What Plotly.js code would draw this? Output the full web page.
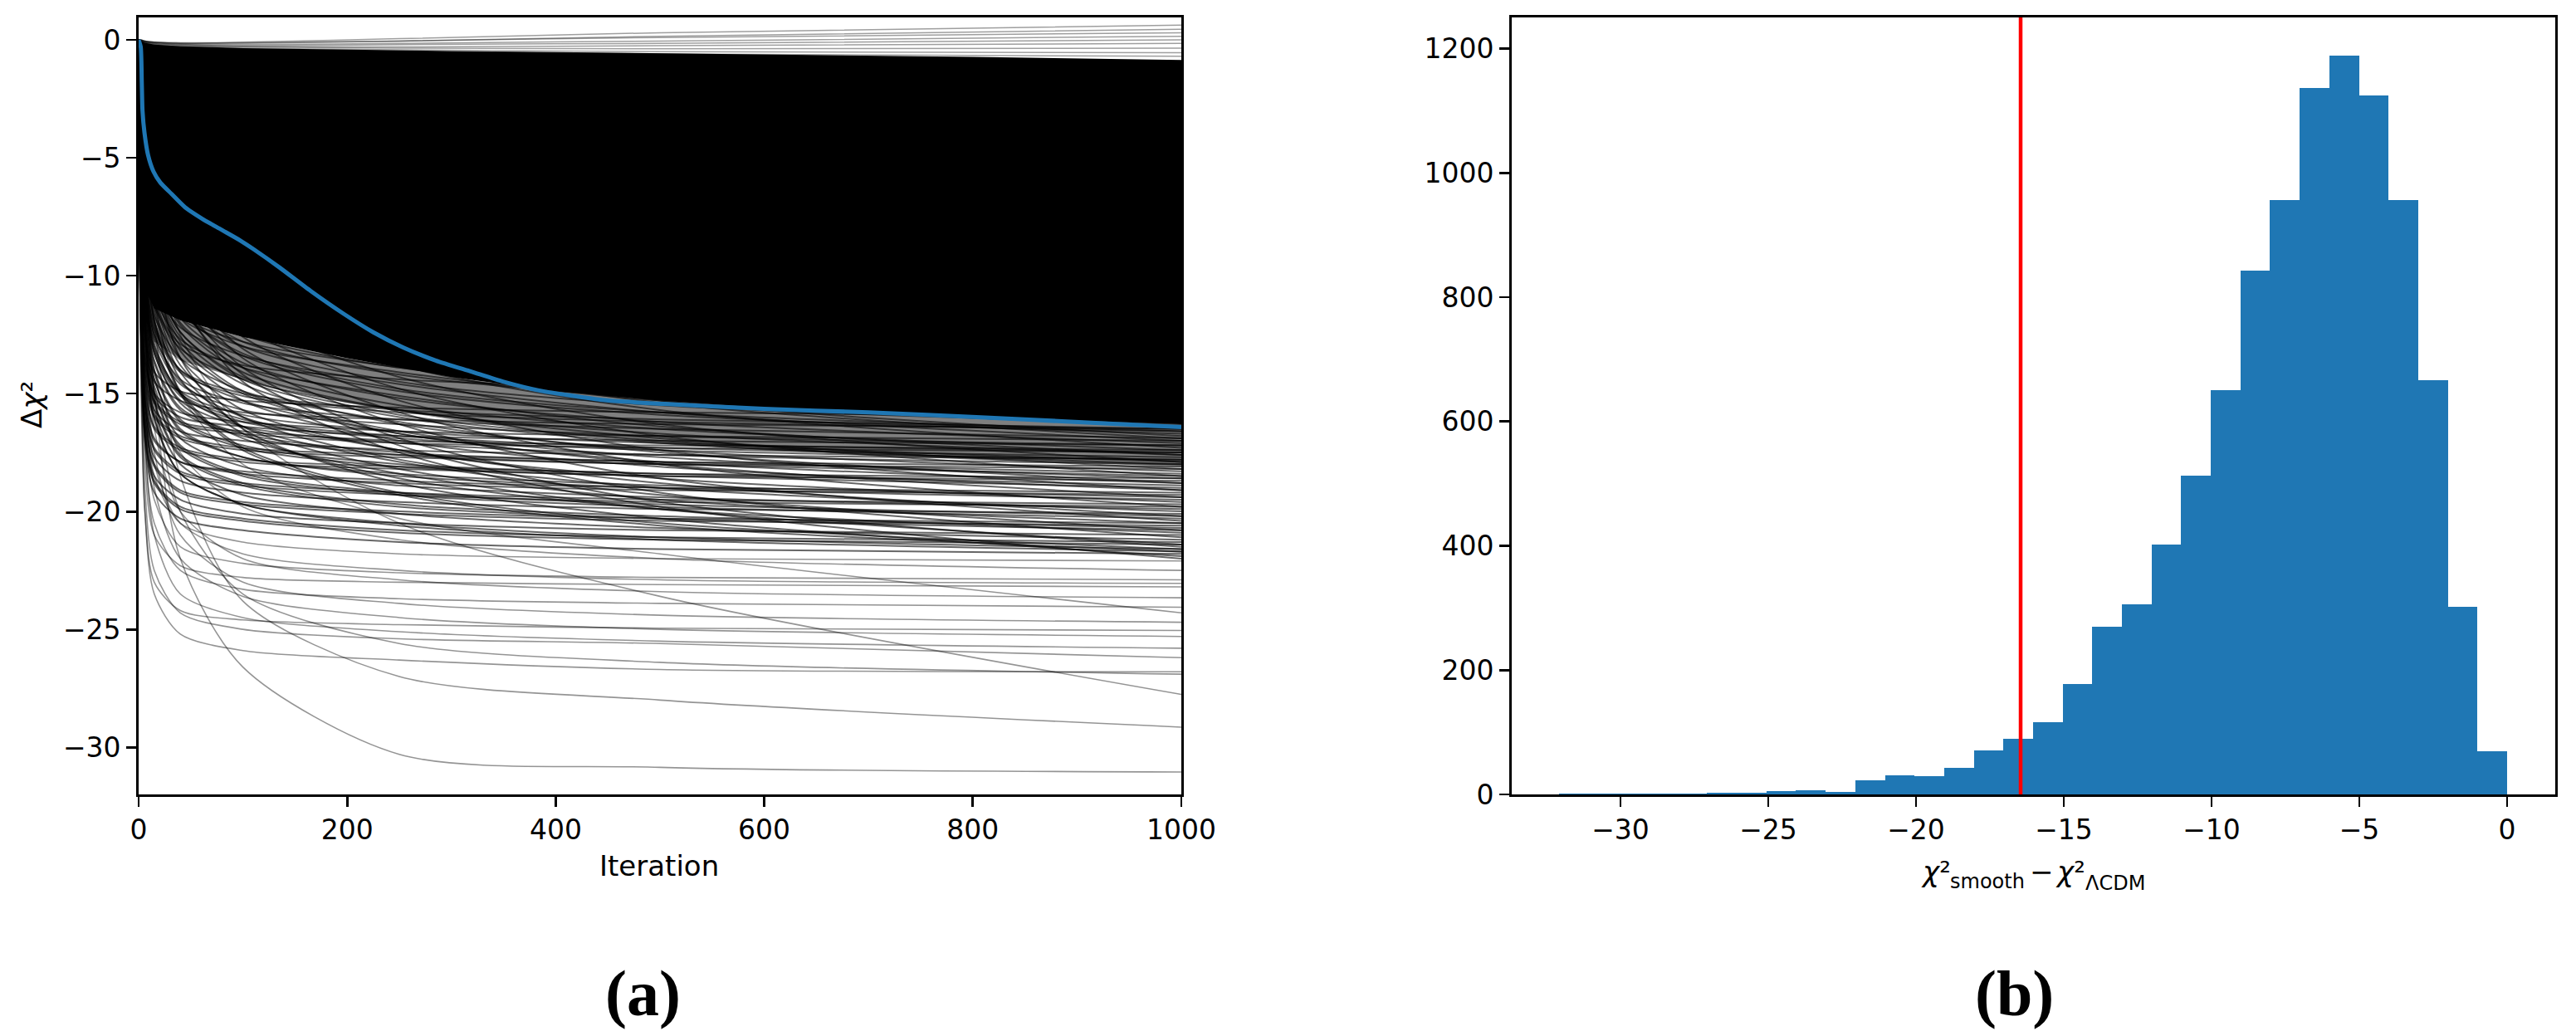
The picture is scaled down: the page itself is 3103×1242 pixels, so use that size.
<!DOCTYPE html>
<html>
<head>
<meta charset="utf-8">
<script src="https://cdn.plot.ly/plotly-3.0.1.min.js"></script>
<style>html,body{margin:0;padding:0;background:#fff;}#chart{width:3103px;height:1242px;}</style>
</head>
<body>
<div id="chart"></div>
<script>
// ---------------- Panel (a): trajectories ----------------
const ITER = [0, 2, 6, 15, 40, 100, 250, 500, 1000];

// envelope of the saturated (solid black) region
const FILL_ITER = [0, 2, 6, 15, 40, 100, 200, 300, 400, 500, 600, 800, 1000];
const FILL_TOP  = [0, -0.05, -0.12, -0.2, -0.27, -0.35, -0.42, -0.48, -0.52, -0.57, -0.62, -0.72, -0.85];
const FILL_BOT  = [0, -8, -10.6, -11.4, -11.9, -12.6, -13.5, -14.3, -14.9, -15.3, -15.6, -16.0, -16.3];
// lower edge of the very crowded zone just under it
const CROWD_BOT = [0, -9, -11.8, -12.8, -13.6, -14.4, -15.4, -16.1, -16.7, -17.1, -17.4, -17.8, -18.1];

// dense band of trajectories (values at ITER)
const DENSE_LINES = [
  [0,-12.0,-17.0,-19.2,-20.3,-20.8,-21.3,-21.6,-21.8],
  [0,-7.6,-12.6,-16.1,-18.4,-19.7,-20.6,-21.2,-21.7],
  [0,-4.8,-8.6,-11.9,-14.9,-17.3,-19.2,-20.5,-21.6],
  [0,-2.6,-5.4,-8.2,-11.2,-14.2,-17.2,-19.6,-21.5],
  [0,-11.8,-16.7,-18.8,-19.9,-20.4,-20.9,-21.2,-21.4],
  [0,-7.4,-12.3,-15.7,-18.0,-19.3,-20.1,-20.7,-21.2],
  [0,-11.6,-16.4,-18.5,-19.5,-20.1,-20.5,-20.8,-21.0],
  [0,-4.6,-8.4,-11.5,-14.4,-16.7,-18.6,-19.9,-20.9],
  [0,-7.2,-12.0,-15.3,-17.6,-18.8,-19.7,-20.2,-20.7],
  [0,-11.3,-16.1,-18.1,-19.2,-19.7,-20.1,-20.4,-20.6],
  [0,-2.4,-5.1,-7.8,-10.6,-13.5,-16.3,-18.6,-20.4],
  [0,-7.1,-11.8,-15.0,-17.3,-18.5,-19.3,-19.8,-20.3],
  [0,-11.1,-15.7,-17.7,-18.7,-19.2,-19.6,-19.9,-20.1],
  [0,-4.4,-8.0,-11.0,-13.8,-16.0,-17.8,-19.0,-20.0],
  [0,-7.0,-11.5,-14.7,-16.9,-18.1,-18.9,-19.4,-19.9],
  [0,-10.8,-15.4,-17.3,-18.3,-18.8,-19.2,-19.5,-19.7],
  [0,-4.3,-7.8,-10.8,-13.5,-15.7,-17.4,-18.6,-19.6],
  [0,-6.8,-11.3,-14.4,-16.5,-17.7,-18.4,-18.9,-19.4],
  [0,-10.6,-15.0,-16.9,-17.9,-18.3,-18.7,-19.0,-19.2],
  [0,-2.3,-4.8,-7.3,-9.9,-12.6,-15.3,-17.4,-19.1],
  [0,-6.6,-11.0,-14.0,-16.1,-17.2,-18.0,-18.4,-18.9],
  [0,-4.1,-7.5,-10.3,-13.0,-15.0,-16.7,-17.9,-18.8],
  [0,-10.2,-14.5,-16.4,-17.3,-17.8,-18.1,-18.4,-18.6],
  [0,-6.5,-10.7,-13.7,-15.7,-16.8,-17.6,-18.0,-18.5],
  [0,-4.0,-7.3,-10.1,-12.6,-14.6,-16.3,-17.4,-18.3],
  [0,-10.0,-14.2,-16.0,-16.9,-17.4,-17.7,-18.0,-18.2],
  [0,-6.3,-10.4,-13.3,-15.3,-16.4,-17.1,-17.6,-18.0],
  [0,-2.1,-4.5,-6.8,-9.3,-11.8,-14.3,-16.3,-17.9],
  [0,-9.8,-13.9,-15.7,-16.6,-17.0,-17.4,-17.6,-17.8],
  [0,-3.9,-7.0,-9.7,-12.1,-14.1,-15.7,-16.7,-17.6],
  [0,-6.1,-10.2,-13.0,-14.9,-15.9,-16.6,-17.1,-17.5],
  [0,-9.6,-13.6,-15.3,-16.2,-16.6,-17.0,-17.2,-17.4],
  [0,-6.0,-10.0,-12.7,-14.6,-15.7,-16.3,-16.8,-17.2],
  [0,-3.8,-6.8,-9.4,-11.8,-13.7,-15.2,-16.2,-17.1],
  [0,-9.4,-13.3,-15.0,-15.8,-16.2,-16.6,-16.8,-17.0],
  [0,-5.9,-9.8,-12.5,-14.4,-15.4,-16.1,-16.5,-16.9],
  [0,-2.0,-4.2,-6.4,-8.7,-11.1,-13.4,-15.3,-16.8],
  [0,-3.7,-6.6,-9.1,-11.5,-13.3,-14.8,-15.8,-16.6],
  [0,-5.8,-9.6,-12.2,-14.0,-15.0,-15.7,-16.1,-16.5],
  [0,-3.6,-6.5,-9.0,-11.2,-13.0,-14.5,-15.5,-16.3],
  [0,-1.9,-4.1,-6.2,-8.4,-10.7,-13.0,-14.7,-16.2],
  [0,-3.5,-6.4,-8.8,-11.0,-12.8,-14.2,-15.2,-16.0],
  [0,-2.0,-4.5,-7.5,-11.0,-14.5,-17.5,-19.8,-22.0],
  [0,-3.0,-6.0,-9.5,-13.5,-16.5,-18.8,-20.3,-21.9],
  [0,-3.3,-6.0,-8.3,-10.4,-12.0,-13.4,-14.3,-15.0],
  [0,-1.8,-3.8,-5.8,-8.0,-10.1,-12.2,-13.9,-15.3],
  [0,-3.4,-6.2,-8.6,-10.8,-12.5,-13.9,-14.8,-15.6],
  [0,-4.7,-7.9,-9.8,-11.4,-12.5,-13.6,-14.7,-15.8],
  [0,-1.9,-4.0,-6.1,-8.4,-10.6,-12.9,-14.7,-16.1],
  [0,-4.9,-8.2,-10.2,-11.8,-13.0,-14.1,-15.3,-16.4],
  [0,-3.7,-6.7,-9.2,-11.5,-13.4,-14.9,-15.9,-16.7],
  [0,-5.1,-8.5,-10.5,-12.2,-13.4,-14.6,-15.8,-17.0],
  [0,-2.1,-4.3,-6.6,-9.0,-11.4,-13.8,-15.7,-17.3],
  [0,-5.3,-8.8,-10.9,-12.7,-13.9,-15.1,-16.4,-17.6],
  [0,-3.9,-7.2,-9.8,-12.4,-14.3,-15.9,-17.0,-17.9],
  [0,-5.5,-9.1,-11.3,-13.1,-14.4,-15.7,-16.9,-18.2],
  [0,-2.2,-4.6,-7.0,-9.6,-12.2,-14.8,-16.8,-18.5],
  [0,-5.6,-9.4,-11.7,-13.5,-14.9,-16.2,-17.5,-18.8],
  [0,-4.2,-7.6,-10.5,-13.2,-15.3,-17.0,-18.1,-19.1],
  [0,-5.8,-9.7,-12.0,-14.0,-15.3,-16.7,-18.0,-19.4],
  [0,-2.4,-5.0,-7.5,-10.3,-13.1,-15.8,-18.0,-19.8],
  [0,-6.1,-10.1,-12.5,-14.5,-16.0,-17.4,-18.8,-20.2],
  [0,-4.5,-8.2,-11.3,-14.1,-16.4,-18.2,-19.5,-20.5],
  [0,-6.2,-10.4,-12.9,-15.0,-16.4,-17.9,-19.3,-20.8],
  [0,-2.5,-5.3,-8.0,-11.0,-13.9,-16.9,-19.2,-21.1],
  [0,-6.4,-10.7,-13.3,-15.4,-16.9,-18.4,-19.9,-21.4],
  [0,-4.8,-8.7,-11.9,-15.0,-17.4,-19.3,-20.6,-21.7],
  [0,-5.3,-8.8,-11.2,-12.9,-13.8,-14.4,-14.8,-15.2],
  [0,-8.8,-12.5,-14.1,-14.9,-15.3,-15.6,-15.8,-16.0],
  [0,-5.8,-9.6,-12.3,-14.1,-15.1,-15.8,-16.2,-16.6],
  [0,-9.5,-13.4,-15.1,-16.0,-16.4,-16.8,-17.0,-17.2],
  [0,-6.2,-10.3,-13.1,-15.0,-16.1,-16.8,-17.3,-17.7],
  [0,-10.0,-14.1,-15.9,-16.8,-17.3,-17.6,-17.9,-18.1],
  [0,-6.4,-10.7,-13.6,-15.6,-16.7,-17.5,-17.9,-18.4],
  [0,-10.3,-14.6,-16.5,-17.4,-17.9,-18.2,-18.5,-18.7],
  [0,-6.7,-11.0,-14.1,-16.2,-17.3,-18.1,-18.5,-19.0],
  [0,-10.6,-15.1,-17.0,-17.9,-18.4,-18.8,-19.1,-19.3],
  [0,-6.8,-11.3,-14.4,-16.6,-17.7,-18.5,-19.0,-19.5],
  [0,-10.9,-15.4,-17.4,-18.4,-18.9,-19.3,-19.6,-19.8],
  [0,-7.1,-11.7,-14.9,-17.2,-18.4,-19.2,-19.7,-20.2],
  [0,-11.3,-16.0,-18.0,-19.1,-19.6,-20.0,-20.3,-20.5],
  [0,-7.3,-12.1,-15.4,-17.7,-18.9,-19.8,-20.3,-20.8],
  [0,-11.7,-16.6,-18.7,-19.8,-20.3,-20.8,-21.1,-21.3],
  [0,-7.6,-12.5,-16.0,-18.4,-19.7,-20.5,-21.1,-21.6],
  [0,-4.9,-8.1,-10.0,-11.7,-12.8,-13.9,-15.1,-16.2],
  [0,-2.0,-4.2,-6.4,-8.8,-11.2,-13.5,-15.4,-16.9],
  [0,-3.8,-7.0,-9.6,-12.0,-13.9,-15.5,-16.5,-17.4],
  [0,-6.2,-10.3,-13.2,-15.1,-16.2,-16.9,-17.4,-17.8],
  [0,-4.0,-7.2,-9.9,-12.4,-14.4,-16.0,-17.1,-18.0],
  [0,-9.1,-12.9,-14.5,-15.3,-15.8,-16.1,-16.3,-16.5],
  [0,-9.6,-13.7,-15.4,-16.3,-16.7,-17.1,-17.3,-17.5],
  [0,-4.1,-7.4,-10.2,-12.8,-14.9,-16.6,-17.7,-18.6]
];

// isolated trajectories in the lower tail (values at ITER)
const SPARSE_LINES = [
  [0,-4,-9,-15,-22,-26.6,-30.3,-30.85,-31.05],
  [0,-12,-20,-23.5,-25.2,-25.9,-26.3,-26.7,-26.8],
  [0,-3,-7,-12,-18.5,-23.8,-27.0,-28.0,-29.15],
  [0,-2,-5,-8,-12.5,-16.5,-20.5,-23.6,-27.76],
  [0,-13,-19,-22.5,-24.3,-25.0,-25.4,-25.6,-26.2],
  [0,-10,-17,-21,-23.5,-24.5,-25.1,-25.5,-25.8],
  [0,-14,-20,-23,-24.2,-24.6,-24.8,-24.95,-25.05],
  [0,-3,-7,-11,-15,-18,-20.3,-21.8,-24.3],
  [0,-11,-17,-20.5,-22.5,-23.3,-23.7,-23.9,-24.06],
  [0,-6,-12,-16.5,-20,-22,-22.9,-23.4,-23.66],
  [0,-12,-18,-21,-22.3,-22.8,-23.0,-23.1,-23.2],
  [0,-8,-14,-18,-20.5,-21.8,-22.5,-22.9,-23.05],
  [0,-10,-16,-19.5,-21.5,-22.2,-22.6,-22.8,-22.9],
  [0,-5,-10,-14,-17.5,-19.8,-21.2,-22.0,-22.5],
  [0,-9,-15,-18.5,-20.5,-21.3,-21.8,-22.0,-22.1],
  [0,-7,-13,-17.5,-21,-23,-23.9,-24.4,-24.7],
  [0,-9,-15,-19,-22,-23.6,-24.5,-25.0,-25.3],
  [0,-5,-10,-15,-20,-23.5,-25.6,-26.4,-26.9]
];

// faint trajectories just above the saturated region (values at ITER)
const TOP_LINES = [
  [0,0,-0.05,-0.1,-0.15,-0.1,0.05,0.3,0.62],
  [0,0,-0.05,-0.1,-0.15,-0.15,-0.05,0.15,0.45],
  [0,0,-0.05,-0.1,-0.12,-0.12,-0.05,0.1,0.3],
  [0,-0.02,-0.08,-0.12,-0.18,-0.2,-0.15,-0.05,0.15],
  [0,-0.02,-0.08,-0.14,-0.2,-0.25,-0.2,-0.15,0.0],
  [0,-0.03,-0.1,-0.16,-0.22,-0.28,-0.3,-0.25,-0.15],
  [0,-0.03,-0.1,-0.18,-0.25,-0.3,-0.35,-0.38,-0.35],
  [0,-0.04,-0.12,-0.2,-0.28,-0.35,-0.42,-0.5,-0.55],
  [0,-0.05,-0.14,-0.22,-0.3,-0.4,-0.5,-0.6,-0.7]
];

// highlighted (blue) trajectory
const BLUE_ITER = [0, 2, 3, 3.7, 5.6, 9, 14.3, 20.9, 31.5, 44.8, 60.7, 79.3, 97.9, 110, 135, 165, 196, 225, 254, 285, 319, 350, 384, 420, 449, 504, 600, 700, 756, 850, 930, 1000];
const BLUE_VAL  = [0, -0.3, -1.8, -3.0, -3.94, -4.88, -5.59, -6.06, -6.53, -7.11, -7.58, -8.05, -8.52, -8.87, -9.65, -10.65, -11.6, -12.4, -13.05, -13.6, -14.07, -14.5, -14.87, -15.12, -15.29, -15.44, -15.65, -15.8, -15.9, -16.1, -16.27, -16.42];

const A_XTICKS = [0, 200, 400, 600, 800, 1000];
const A_XLABELS = ['0', '200', '400', '600', '800', '1000'];
const A_YTICKS = [0, -5, -10, -15, -20, -25, -30];
const A_YLABELS = ['0', '\u22125', '\u221210', '\u221215', '\u221220', '\u221225', '\u221230'];

// ---------------- Panel (b): histogram ----------------
const BIN_START = -32.08;
const BIN_WIDTH = 1.0025;
const COUNTS = [1, 1, 1, 1, 1, 3, 3, 5, 7, 4, 23, 31, 29, 43, 71, 89, 116, 177, 270, 306,
                402, 513, 651, 843, 956, 1136, 1189, 1125, 956, 667, 302, 69];
const OBSERVED = -16.46;

const B_XTICKS = [-30, -25, -20, -15, -10, -5, 0];
const B_XLABELS = ['\u221230', '\u221225', '\u221220', '\u221215', '\u221210', '\u22125', '0'];
const B_YTICKS = [0, 200, 400, 600, 800, 1000, 1200];
const B_YLABELS = ['0', '200', '400', '600', '800', '1000', '1200'];

// ---------------- build ----------------
const W = 3103, H = 1242;
const px = v => v / W;
const py = v => 1 - v / H;

const traces = [];
traces.push({
  x: FILL_ITER.concat(FILL_ITER.slice().reverse()),
  y: FILL_BOT.concat(CROWD_BOT.slice().reverse()),
  xaxis: 'x', yaxis: 'y', mode: 'lines', fill: 'toself',
  fillcolor: 'rgba(0,0,0,0.5)', line: {width: 0, color: 'rgba(0,0,0,0)'}, hoverinfo: 'skip'
});
traces.push({
  x: FILL_ITER.concat(FILL_ITER.slice().reverse()),
  y: FILL_TOP.concat(FILL_BOT.slice().reverse()),
  xaxis: 'x', yaxis: 'y', mode: 'lines', fill: 'toself',
  fillcolor: '#000000', line: {width: 0, color: '#000000'}, hoverinfo: 'skip'
});
DENSE_LINES.forEach(v => traces.push({
  x: ITER, y: v, xaxis: 'x', yaxis: 'y', mode: 'lines',
  line: {color: 'rgba(0,0,0,0.6)', width: 2.0, shape: 'spline', smoothing: 0.8}, hoverinfo: 'skip'
}));
SPARSE_LINES.forEach(v => traces.push({
  x: ITER, y: v, xaxis: 'x', yaxis: 'y', mode: 'lines',
  line: {color: 'rgba(0,0,0,0.42)', width: 1.6, shape: 'spline', smoothing: 0.8}, hoverinfo: 'skip'
}));
TOP_LINES.forEach(v => traces.push({
  x: ITER, y: v, xaxis: 'x', yaxis: 'y', mode: 'lines',
  line: {color: 'rgba(0,0,0,0.38)', width: 1.5, shape: 'spline', smoothing: 0.8}, hoverinfo: 'skip'
}));
traces.push({
  x: BLUE_ITER, y: BLUE_VAL, xaxis: 'x', yaxis: 'y', mode: 'lines',
  line: {color: '#1f77b4', width: 5, shape: 'spline', smoothing: 0.6}, hoverinfo: 'skip'
});
traces.push({
  type: 'bar',
  x: COUNTS.map((c, i) => BIN_START + (i + 0.5) * BIN_WIDTH),
  y: COUNTS, width: BIN_WIDTH,
  xaxis: 'x2', yaxis: 'y2',
  marker: {color: '#1f77b4', line: {width: 0}}, hoverinfo: 'skip'
});

const tickFont = {family: 'DejaVu Sans', size: 33, color: '#000'};
const axisBase = {
  showline: true, linecolor: '#000', linewidth: 2.8, mirror: true,
  ticks: 'outside', ticklen: 12, tickwidth: 2.8, tickcolor: '#000',
  showgrid: false, zeroline: false, tickfont: tickFont, tickmode: 'array'
};
const Y0 = py(957), Y1 = py(21);

const ann = (text, x, y, size, opts) => Object.assign({
  text: text, x: px(x), y: py(y), xref: 'paper', yref: 'paper', showarrow: false,
  xanchor: 'center', yanchor: 'middle',
  font: {family: 'DejaVu Sans', size: size, color: '#000'}
}, opts || {});

const layout = {
  width: W, height: H, margin: {l: 0, r: 0, t: 0, b: 0},
  paper_bgcolor: '#fff', plot_bgcolor: '#fff', showlegend: false, bargap: 0,
  xaxis: Object.assign({}, axisBase, {domain: [px(167), px(1423)], range: [0, 1000], anchor: 'y',
    tickvals: A_XTICKS, ticktext: A_XLABELS}),
  yaxis: Object.assign({}, axisBase, {domain: [Y0, Y1], range: [-32.0, 0.95], anchor: 'x',
    tickvals: A_YTICKS, ticktext: A_YLABELS}),
  xaxis2: Object.assign({}, axisBase, {domain: [px(1821), px(3078)], range: [-33.68, 1.63], anchor: 'y2',
    tickvals: B_XTICKS, ticktext: B_XLABELS}),
  yaxis2: Object.assign({}, axisBase, {domain: [Y0, Y1], range: [0, 1250], anchor: 'x2',
    tickvals: B_YTICKS, ticktext: B_YLABELS}),
  shapes: [{type: 'line', xref: 'x2', yref: 'y2 domain', x0: OBSERVED, x1: OBSERVED, y0: 0, y1: 1,
    line: {color: '#ff0000', width: 4.5}}],
  annotations: [
    ann('Iteration', 794, 1043, 34),
    ann('\u0394<i>\u03c7</i>\u00b2', 38, 488, 34, {textangle: -90}),
    ann('<i>\u03c7</i>\u00b2', 2312, 1050, 34, {xanchor: 'left'}),
    ann('smooth', 2347, 1062, 24, {xanchor: 'left'}),
    ann('\u2212', 2459, 1050, 34),
    ann('<i>\u03c7</i>\u00b2', 2474, 1050, 34, {xanchor: 'left'}),
    ann('\u039bCDM', 2510, 1064, 24, {xanchor: 'left'}),
    ann('<b>(a)</b>', 774, 1196, 78, {font: {family: 'Liberation Serif', size: 78, color: '#000'}}),
    ann('<b>(b)</b>', 2426, 1196, 78, {font: {family: 'Liberation Serif', size: 78, color: '#000'}})
  ]
};

Plotly.newPlot('chart', traces, layout, {staticPlot: true, displayModeBar: false});
</script>
</body>
</html>
